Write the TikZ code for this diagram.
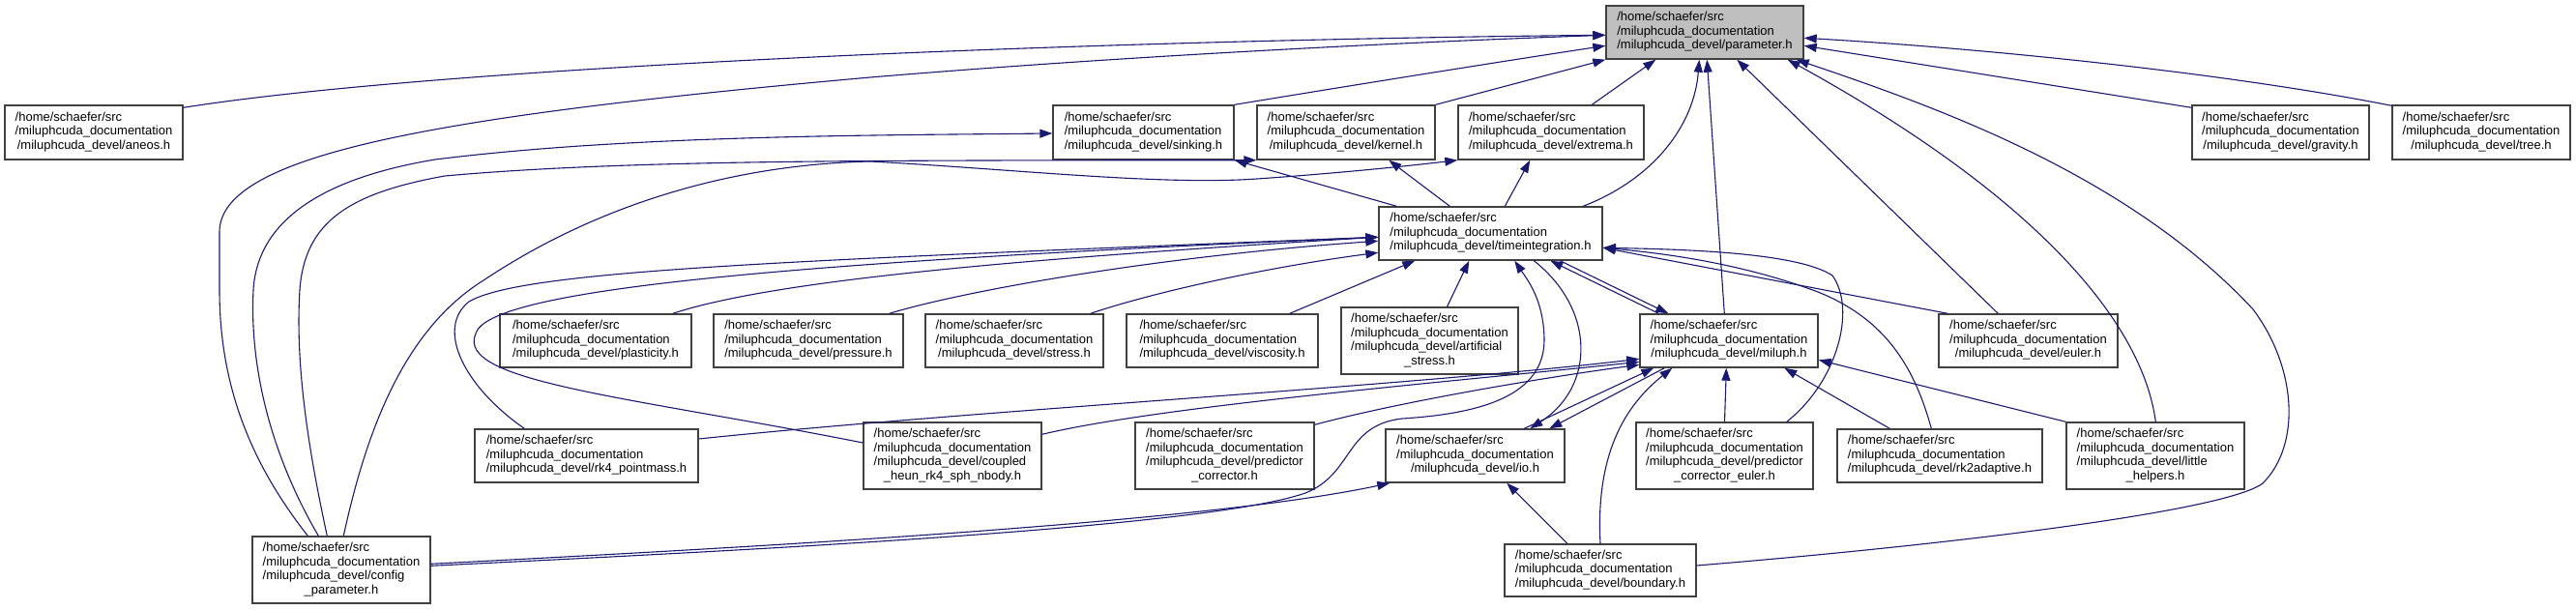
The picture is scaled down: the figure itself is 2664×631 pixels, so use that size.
\documentclass[tikz,border=0pt]{standalone}
\usepackage{fontspec}
\newfontfamily\lbl{Liberation Sans}
\usetikzlibrary{arrows.meta,calc}
\definecolor{edgec}{HTML}{191970}
\definecolor{boxc}{HTML}{404040}
\definecolor{rootc}{HTML}{BFBFBF}
\newcommand{\fthree}[1]{\begin{tabular}{@{}l@{}}/home/schaefer/src\\/miluphcuda\_documentation\\\multicolumn{1}{@{}c@{}}{/miluphcuda\_devel/#1}\end{tabular}}
\newcommand{\ffour}[2]{\begin{tabular}{@{}l@{}}/home/schaefer/src\\/miluphcuda\_documentation\\/miluphcuda\_devel/#1\\\multicolumn{1}{@{}c@{}}{#2}\end{tabular}}
\begin{document}
\begin{tikzpicture}[x=1pt,y=-1pt,
  fbox/.style={draw=boxc, line width=1.4pt, fill=white, inner sep=0pt,
    font=\lbl\fontsize{13}{14.5}\selectfont},
  rootbox/.style={fbox, fill=rootc},
  dep/.style={draw=edgec, line width=1.1pt, -{Triangle[length=13pt,width=9pt]}}]
\renewcommand{\arraystretch}{1}
\useasboundingbox (0,0) rectangle (2664,631);
\fill[white] (0,0) rectangle (2664,631);

% nodes
\node[rootbox, minimum width=204pt, minimum height=55pt] (P) at (1763,33.5) {\fthree{parameter.h}};
\node[fbox, minimum width=184pt, minimum height=56pt] (aneos) at (97,137) {\fthree{aneos.h}};
\node[fbox, minimum width=187pt, minimum height=56pt] (sinking) at (1182.5,137) {\fthree{sinking.h}};
\node[fbox, minimum width=184pt, minimum height=56pt] (kernel) at (1392,137) {\fthree{kernel.h}};
\node[fbox, minimum width=192pt, minimum height=56pt] (extrema) at (1604,137) {\fthree{extrema.h}};
\node[fbox, minimum width=183pt, minimum height=56pt] (gravity) at (2358.5,137) {\fthree{gravity.h}};
\node[fbox, minimum width=184pt, minimum height=56pt] (tree) at (2566,137) {\fthree{tree.h}};
\node[fbox, minimum width=231pt, minimum height=55pt] (TI) at (1541.5,241.5) {\fthree{timeintegration.h}};
\node[fbox, minimum width=198pt, minimum height=55pt] (plast) at (616,352.5) {\fthree{plasticity.h}};
\node[fbox, minimum width=196pt, minimum height=55pt] (press) at (836,352.5) {\fthree{pressure.h}};
\node[fbox, minimum width=184pt, minimum height=55pt] (stress) at (1049,352.5) {\fthree{stress.h}};
\node[fbox, minimum width=198pt, minimum height=55pt] (visc) at (1264,352.5) {\fthree{viscosity.h}};
\node[fbox, minimum width=183pt, minimum height=69pt] (art) at (1478.5,352.5) {\ffour{artificial}{\_stress.h}};
\node[fbox, minimum width=184pt, minimum height=55pt] (M) at (1788,352.5) {\fthree{miluph.h}};
\node[fbox, minimum width=185pt, minimum height=55pt] (euler) at (2097.5,352.5) {\fthree{euler.h}};
\node[fbox, minimum width=231pt, minimum height=55pt] (rkfour) at (606.5,471.5) {\fthree{rk4\_pointmass.h}};
\node[fbox, minimum width=184pt, minimum height=69pt] (coupled) at (985,471.5) {\ffour{coupled}{\_heun\_rk4\_sph\_nbody.h}};
\node[fbox, minimum width=185pt, minimum height=69pt] (pc) at (1266.5,471.5) {\ffour{predictor}{\_corrector.h}};
\node[fbox, minimum width=185pt, minimum height=55pt] (io) at (1525.5,471.5) {\fthree{io.h}};
\node[fbox, minimum width=183pt, minimum height=69pt] (pce) at (1783.5,471.5) {\ffour{predictor}{\_corrector\_euler.h}};
\node[fbox, minimum width=212pt, minimum height=55pt] (rktwo) at (2006,471.5) {\fthree{rk2adaptive.h}};
\node[fbox, minimum width=184pt, minimum height=69pt] (lh) at (2229,471.5) {\ffour{little}{\_helpers.h}};
\node[fbox, minimum width=184pt, minimum height=69pt] (config) at (353,589.5) {\ffour{config}{\_parameter.h}};
\node[fbox, minimum width=198pt, minimum height=54pt] (bound) at (1655,590) {\fthree{boundary.h}};

% edges into parameter.h
\draw[dep] ($(aneos.north east)+(0,3)$) .. controls (450,70) and (1100,42) .. ($(P.north west)+(0,31)$);
\draw[dep] ($(config.north west)+(58,0)$) .. controls (260,480) and (227,400) .. (227,300)
  -- (227,240) .. controls (227,160) and (450,120) .. (900,80)
  .. controls (1200,55) and (1500,42) .. ($(P.north west)+(0,31)$);
\draw[dep] (sinking.north east) .. controls (1400,88) and (1550,64) .. ($(P.north west)+(0,42)$);
\draw[dep] (kernel.north east) -- (P.south west);
\draw[dep] ($(extrema.north west)+(139,0)$) -- ($(P.south west)+(52,0)$);
\draw[dep] ($(TI.north west)+(212,0)$) .. controls (1710,185) and (1752,130) .. ($(P.south west)+(97,0)$);
\draw[dep] ($(M.north west)+(88,0)$) -- ($(P.south west)+(105,0)$);
\draw[dep] ($(euler.north west)+(62,0)$) -- ($(P.south west)+(136,0)$);
\draw[dep] ($(lh.north west)+(93,0)$) .. controls (2215,330) and (2100,200) .. ($(P.south east)+(-17,0)$);
\draw[dep] ($(bound.east)+(0,-5)$) .. controls (2000,565) and (2300,530) .. (2340,500)
  .. controls (2380,460) and (2375,380) .. (2330,320)
  .. controls (2200,180) and (2000,110) .. ($(P.south east)+(-8,0)$);
\draw[dep] ($(gravity.north west)+(0,3)$) -- ($(P.north east)+(0,42)$);
\draw[dep] ($(tree.north west)+(0,1)$) .. controls (2300,75) and (2050,50) .. ($(P.north east)+(0,34)$);

% edges from config_parameter.h
\draw[dep] ($(config.north west)+(69,0)$) .. controls (280,470) and (258,380) .. (262,300)
  .. controls (266,230) and (330,185) .. (450,165)
  .. controls (650,140) and (900,140) .. ($(sinking.west)+(0,1)$);
\draw[dep] ($(config.north west)+(78,0)$) .. controls (320,470) and (305,380) .. (310,300)
  .. controls (315,230) and (360,200) .. (460,182)
  .. controls (650,165) and (900,166) .. (kernel.south west);
\draw[dep] ($(config.north west)+(95,0)$) .. controls (380,440) and (420,340) .. (500,290)
  .. controls (620,210) and (760,170) .. (900,167)
  .. controls (1050,175) and (1200,192) .. (1300,185)
  .. controls (1400,178) and (1470,170) .. (extrema.south west);
\draw[dep] ($(config.north east)+(0,31)$) .. controls (800,568) and (1250,545) .. (1350,510)
  .. controls (1400,490) and (1390,440) .. (1450,433)
  .. controls (1530,428) and (1598,410) .. (1597,350)
  .. controls (1596,310) and (1580,290) .. ($(TI.south west)+(141,0)$);
\draw[dep] ($(config.north east)+(0,29)$) .. controls (800,565) and (1250,540) .. ($(io.south west)+(5,0)$);

% edges from timeintegration.h
\draw[dep] ($(TI.north west)+(19,0)$) -- (sinking.south east);
\draw[dep] ($(TI.north west)+(74,0)$) -- ($(kernel.south west)+(137,0)$);
\draw[dep] ($(TI.north west)+(131,0)$) -- ($(extrema.south west)+(75,0)$);
\draw[dep] ($(TI.south west)+(188,0)$) -- ($(M.north west)+(30,0)$);
\draw[dep] ($(TI.south west)+(161,0)$) .. controls (1650,320) and (1650,400) .. ($(io.north west)+(150,0)$);

% edges into timeintegration.h
\draw[dep] ($(rkfour.north west)+(52,0)$) .. controls (480,400) and (450,340) .. (485,312)
  .. controls (540,280) and (800,270) .. ($(TI.north west)+(0,32)$);
\draw[dep] ($(coupled.west)+(0,-13.5)$) .. controls (650,410) and (470,395) .. (492,345)
  .. controls (505,300) and (800,272) .. ($(TI.north west)+(0,32)$);
\draw[dep] ($(plast.north east)+(-20,0)$) .. controls (800,290) and (1050,268) .. ($(TI.north west)+(0,32)$);
\draw[dep] ($(press.north east)+(-15,0)$) .. controls (1000,300) and (1200,265) .. ($(TI.north west)+(0,36)$);
\draw[dep] ($(stress.north east)+(-14,0)$) .. controls (1200,300) and (1320,275) .. ($(TI.north west)+(0,48)$);
\draw[dep] ($(visc.north east)+(-30,0)$) -- ($(TI.south west)+(38,0)$);
\draw[dep] ($(art.north)+(18,0)$) -- ($(TI.south west)+(94,0)$);
\draw[dep] ($(M.north west)+(20,0)$) -- ($(TI.south west)+(178,0)$);
\draw[dep] ($(euler.north west)+(10,0)$) -- ($(TI.north east)+(0,43)$);
\draw[dep] ($(pce.north east)+(-28,0)$) .. controls (1900,395) and (1920,320) .. (1895,285)
  .. controls (1860,262) and (1750,258) .. ($(TI.north east)+(0,43)$);
\draw[dep] ($(rktwo.north west)+(98,0)$) .. controls (1980,380) and (1950,330) .. (1880,302)
  .. controls (1800,272) and (1720,262) .. ($(TI.north east)+(0,43)$);

% edges into miluph.h
\draw[dep] ($(rkfour.east)+(0,-17.5)$) .. controls (1000,425) and (1450,400) .. ($(M.north west)+(0,47)$);
\draw[dep] ($(coupled.north east)+(0,13)$) .. controls (1200,420) and (1500,395) .. ($(M.north west)+(0,50)$);
\draw[dep] ($(pc.north east)+(0,3)$) .. controls (1450,415) and (1600,390) .. ($(M.north west)+(0,53)$);
\draw[dep] ($(io.north west)+(144,0)$) -- ($(M.south west)+(15,0)$);
\draw[dep] ($(M.south west)+(26,0)$) -- ($(io.north west)+(170,0)$);
\draw[dep] (bound.north) .. controls (1650,470) and (1680,420) .. ($(M.south west)+(34,0)$);
\draw[dep] (pce.north) -- ($(M.south west)+(90,0)$);
\draw[dep] ($(rktwo.north west)+(55,0)$) -- ($(M.south west)+(150,0)$);
\draw[dep] (lh.north west) -- ($(M.north east)+(0,48)$);

% edges into io.h
\draw[dep] ($(bound.north)+(-34,0)$) -- ($(io.south west)+(126,0)$);
\end{tikzpicture}
\end{document}
